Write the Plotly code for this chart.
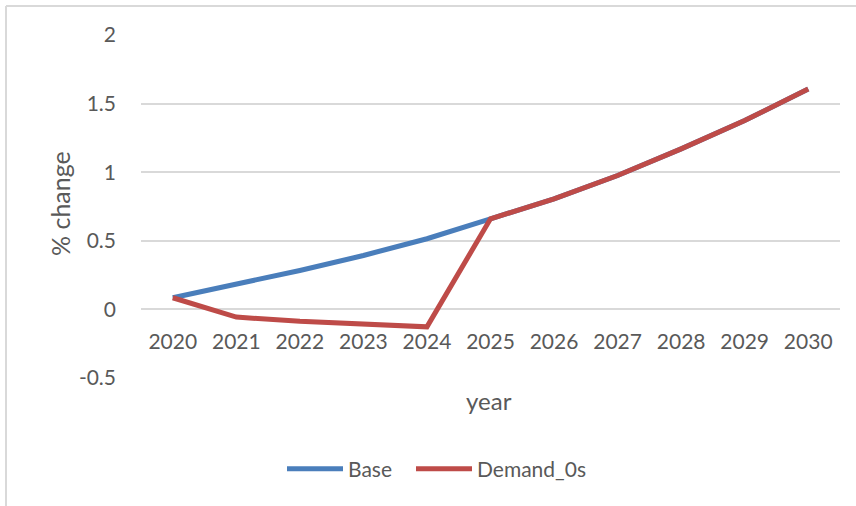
import plotly.graph_objects as go

# Data
years = ["2020", "2021", "2022", "2023", "2024", "2025", "2026", "2027", "2028", "2029", "2030"]
base = [0.085, 0.18, 0.284, 0.393, 0.515, 0.66, 0.806, 0.976, 1.17, 1.376, 1.607]
demand_0s = [0.085, -0.056, -0.087, -0.109, -0.127, 0.66, 0.806, 0.976, 1.17, 1.376, 1.607]
y_ticks = [-0.5, 0, 0.5, 1, 1.5, 2]
y_tick_text = ["-0.5", "0", "0.5", "1", "1.5", "2"]

FONT = "Lato"
GRAY = "#595959"
BLUE = "#4A7EBB"
RED = "#BE4B48"

fig = go.Figure()
fig.add_trace(go.Scatter(x=years, y=base, mode="lines", name="Base",
                         line=dict(color=BLUE, width=5), legend="legend"))
fig.add_trace(go.Scatter(x=years, y=demand_0s, mode="lines", name="Demand_0s",
                         line=dict(color=RED, width=5), legend="legend2"))

W, H = 856, 506
L, R, T, B = 141, 16, 35, 128
pw, ph = W - L - R, H - T - B

y_min, y_max = -0.5, 2.0
zero_pos = (0 - y_min) / (y_max - y_min)

legend_style = dict(orientation="h", xanchor="left",
                    y=(H - B - 469) / ph, yanchor="middle",
                    font=dict(family=FONT, size=21, color=GRAY),
                    itemwidth=56, bgcolor="rgba(0,0,0,0)")

fig.update_layout(
    width=W, height=H,
    margin=dict(l=L, r=R, t=T, b=B, pad=0),
    paper_bgcolor="white", plot_bgcolor="white",
    font=dict(family=FONT, color=GRAY, size=21),
    showlegend=True,
    legend=dict(x=(282 - L) / pw, **legend_style),
    legend2=dict(x=(411 - L) / pw, **legend_style),
    xaxis=dict(
        type="category", range=[-0.5, 10.5],
        anchor="free", position=zero_pos,
        showline=False, showgrid=False, zeroline=False,
        ticks="", ticklabelstandoff=18,
        tickfont=dict(family=FONT, size=21, color=GRAY),
    ),
    yaxis=dict(
        range=[y_min, y_max], domain=[0, 1],
        tickvals=y_ticks, ticktext=y_tick_text,
        showgrid=True, gridcolor="#D9D9D9", gridwidth=1.5,
        zeroline=False, showline=False, ticks="",
        ticklabelstandoff=24,
        tickfont=dict(family=FONT, size=21, color=GRAY),
    ),
    annotations=[
        dict(text="year", xref="paper", yref="paper",
             x=(489 - L) / pw, y=(H - B - 400) / ph,
             xanchor="center", yanchor="middle", showarrow=False,
             font=dict(family=FONT, size=24, color=GRAY)),
        dict(text="% change", xref="paper", yref="paper",
             x=(60 - L) / pw, y=(H - B - 204) / ph, textangle=-90,
             xanchor="center", yanchor="middle", showarrow=False,
             font=dict(family=FONT, size=25, color=GRAY)),
    ],
    shapes=[
        dict(type="line", xref="paper", yref="paper",
             x0=(6 - L) / pw, x1=(W - L) / pw,
             y0=(H - B - 6) / ph, y1=(H - B - 6) / ph,
             line=dict(color="#D9D9D9", width=2)),
        dict(type="line", xref="paper", yref="paper",
             x0=(6 - L) / pw, x1=(6 - L) / pw,
             y0=(H - B - 6) / ph, y1=(H - B - H) / ph,
             line=dict(color="#D9D9D9", width=2)),
    ],
)

fig.write_html("out.html")
